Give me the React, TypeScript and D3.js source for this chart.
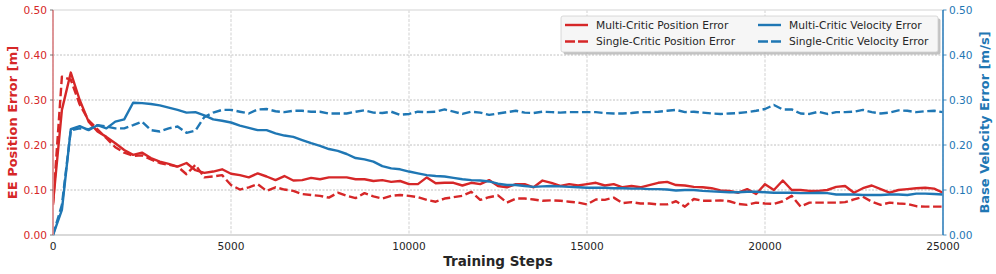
import React from "react";
import * as d3 from "d3";

// Training steps (logged every 250 steps)
const steps: number[] = d3.range(0, 25001, 250);

const multiCriticPosition: number[] = [
  0.07, 0.278, 0.361, 0.30, 0.252, 0.23, 0.218, 0.204, 0.189, 0.178,
  0.183, 0.171, 0.163, 0.158, 0.152, 0.16, 0.144, 0.138, 0.141, 0.146,
  0.136, 0.133, 0.128, 0.137, 0.13, 0.122, 0.131, 0.121, 0.122, 0.127,
  0.124, 0.128, 0.128, 0.128, 0.124, 0.124, 0.12, 0.122, 0.118, 0.12,
  0.113, 0.113, 0.128, 0.115, 0.116, 0.116, 0.11, 0.116, 0.113, 0.122,
  0.109, 0.106, 0.113, 0.113, 0.106, 0.121, 0.116, 0.109, 0.113, 0.11,
  0.113, 0.116, 0.11, 0.113, 0.106, 0.109, 0.106, 0.111, 0.116, 0.118,
  0.111, 0.11, 0.107, 0.106, 0.104, 0.099, 0.098, 0.094, 0.102, 0.091,
  0.113, 0.1, 0.121, 0.1, 0.1, 0.098, 0.098, 0.1, 0.107, 0.109,
  0.094, 0.104, 0.11, 0.102, 0.094, 0.1, 0.102, 0.104, 0.105, 0.103,
  0.094,
];

const singleCriticPosition: number[] = [
  0.067, 0.352, 0.345, 0.29, 0.255, 0.235, 0.215, 0.195, 0.183, 0.176,
  0.177, 0.168, 0.16, 0.156, 0.152, 0.135, 0.156, 0.128, 0.13, 0.133,
  0.111, 0.101, 0.106, 0.113, 0.098, 0.106, 0.101, 0.098, 0.091, 0.089,
  0.087, 0.083, 0.094, 0.087, 0.082, 0.093, 0.086, 0.081, 0.087, 0.089,
  0.087, 0.084, 0.078, 0.074, 0.081, 0.084, 0.087, 0.096, 0.078, 0.084,
  0.088, 0.072, 0.081, 0.081, 0.079, 0.076, 0.077, 0.076, 0.074, 0.072,
  0.068, 0.079, 0.078, 0.083, 0.071, 0.073, 0.07, 0.07, 0.068, 0.068,
  0.075, 0.063, 0.08, 0.076, 0.076, 0.077, 0.075, 0.069, 0.067, 0.072,
  0.07, 0.069, 0.075, 0.087, 0.063, 0.072, 0.072, 0.072, 0.072, 0.073,
  0.079, 0.085, 0.074, 0.067, 0.072, 0.07, 0.069, 0.064, 0.063, 0.063,
  0.063,
];

const multiCriticVelocity: number[] = [
  0.0, 0.056, 0.235, 0.242, 0.233, 0.244, 0.237, 0.252, 0.257, 0.294,
  0.293, 0.291, 0.288, 0.283, 0.278, 0.272, 0.273, 0.266, 0.257, 0.254,
  0.25, 0.243, 0.238, 0.233, 0.233, 0.226, 0.221, 0.218, 0.211, 0.204,
  0.198, 0.191, 0.187, 0.18, 0.171, 0.168, 0.163, 0.153, 0.148, 0.146,
  0.141, 0.137, 0.133, 0.131, 0.13, 0.127, 0.124, 0.122, 0.121, 0.119,
  0.114, 0.111, 0.111, 0.109, 0.107, 0.108, 0.109, 0.108, 0.107, 0.106,
  0.105, 0.105, 0.105, 0.104, 0.104, 0.103, 0.103, 0.102, 0.102, 0.101,
  0.099, 0.1, 0.1, 0.098, 0.097, 0.096, 0.095, 0.095, 0.096, 0.096,
  0.095, 0.094, 0.094, 0.094, 0.093, 0.093, 0.094, 0.093, 0.09, 0.09,
  0.09, 0.089, 0.089, 0.089, 0.09, 0.09, 0.089, 0.092, 0.092, 0.091,
  0.09,
];

const singleCriticVelocity: number[] = [
  0.0, 0.067, 0.233, 0.237, 0.235, 0.244, 0.241, 0.237, 0.237, 0.244,
  0.252, 0.233, 0.23, 0.237, 0.241, 0.227, 0.232, 0.262, 0.272, 0.278,
  0.278, 0.274, 0.27, 0.279, 0.28, 0.275, 0.273, 0.276, 0.276, 0.274,
  0.274, 0.27, 0.27, 0.27, 0.274, 0.277, 0.272, 0.271, 0.274, 0.267,
  0.269, 0.274, 0.273, 0.274, 0.279, 0.274, 0.269, 0.274, 0.272, 0.267,
  0.27, 0.273, 0.276, 0.272, 0.271, 0.274, 0.273, 0.272, 0.273, 0.273,
  0.273, 0.273, 0.271, 0.27, 0.27, 0.271, 0.273, 0.273, 0.274, 0.276,
  0.278, 0.273, 0.274, 0.272, 0.27, 0.269, 0.27, 0.271, 0.273, 0.276,
  0.28, 0.289, 0.279, 0.279, 0.27, 0.269, 0.274, 0.269, 0.273, 0.273,
  0.274, 0.278, 0.273, 0.27, 0.272, 0.277, 0.276, 0.273, 0.275, 0.276,
  0.273,
];

const xTicks: number[] = [0, 5000, 10000, 15000, 20000, 25000];
const yTicks: number[] = [0, 0.1, 0.2, 0.3, 0.4, 0.5];

const legendLabels: string[] = [
  "Multi-Critic Position Error",
  "Single-Critic Position Error",
  "Multi-Critic Velocity Error",
  "Single-Critic Velocity Error",
];

const RED = "#d62728";
const BLUE = "#1f77b4";
const FONT = "'DejaVu Sans', sans-serif";

export default function App() {
  const W = 996;
  const H = 274;
  const left = 53;
  const right = 943;
  const top = 10;
  const bottom = 235;

  const x = d3.scaleLinear().domain([0, 25000]).range([left, right]);
  const yL = d3.scaleLinear().domain([0, 0.5]).range([bottom, top]);
  const yR = d3.scaleLinear().domain([0, 0.5]).range([bottom, top]);

  const lineL = (vals: number[]) =>
    d3.line<number>().x((_, i) => x(steps[i])).y((d) => yL(d))(vals) || "";
  const lineR = (vals: number[]) =>
    d3.line<number>().x((_, i) => x(steps[i])).y((d) => yR(d))(vals) || "";

  const dash = "8.5,3.6";
  const lw = 2.4;

  const legendItems = [
    { label: legendLabels[0], color: RED, dashed: false, col: 0, row: 0 },
    { label: legendLabels[1], color: RED, dashed: true, col: 0, row: 1 },
    { label: legendLabels[2], color: BLUE, dashed: false, col: 1, row: 0 },
    { label: legendLabels[3], color: BLUE, dashed: true, col: 1, row: 1 },
  ];
  const lgX = 561;
  const lgY = 16;
  const lgW = 377;
  const lgH = 36;
  const colX = [565, 758];
  const rowY = [25, 41.5];

  return (
    <div style={{ position: "fixed", left: 0, top: 0 }}>
      <svg width={W} height={H} style={{ display: "block", background: "#fff" }}>
        <defs>
          <clipPath id="plot">
            <rect x={left} y={top - 2} width={right - left} height={bottom - top + 4} />
          </clipPath>
        </defs>
        {/* vertical grid */}
        {xTicks.map((t) => (
          <line key={"vg" + t} x1={x(t)} x2={x(t)} y1={top} y2={bottom}
            stroke="#dcdcdc" strokeWidth={1.3} strokeDasharray="3,1.5" />
        ))}
        {/* horizontal grid */}
        {yTicks.slice(1, 5).map((t) => (
          <line key={"hg" + t} x1={left} x2={right} y1={yL(t)} y2={yL(t)}
            stroke="#b0b0b0" strokeWidth={0.8} strokeDasharray="2,1.5" />
        ))}
        {/* spines */}
        <line x1={left} x2={right} y1={top} y2={top} stroke="#e2e2e2" strokeWidth={1.6} />
        <line x1={left} x2={right} y1={bottom} y2={bottom} stroke="#cccccc" strokeWidth={1.6} />

        {/* lines */}
        <g clipPath="url(#plot)" fill="none" strokeLinejoin="round">
          <path d={lineL(multiCriticPosition)} stroke={RED} strokeWidth={lw} />
          <path d={lineL(singleCriticPosition)} stroke={RED} strokeWidth={lw} strokeDasharray={dash} />
          <path d={lineR(multiCriticVelocity)} stroke={BLUE} strokeWidth={lw} />
          <path d={lineR(singleCriticVelocity)} stroke={BLUE} strokeWidth={lw} strokeDasharray={dash} />
        </g>

        <line x1={left} x2={left} y1={top} y2={bottom} stroke="#dc8c8e" strokeWidth={1.8} />
        <line x1={right} x2={right} y1={top} y2={bottom} stroke="#4a8fc4" strokeWidth={1.8} />

        {/* left ticks */}
        {yTicks.map((t) => (
          <g key={"yl" + t}>
            <line x1={left - 3} x2={left} y1={yL(t)} y2={yL(t)} stroke="#555" strokeWidth={0.8} />
            <text x={left - 6} y={yL(t)} dy="0.35em" textAnchor="end" fill={RED}
              fontFamily={FONT} fontSize={10.6}>{t.toFixed(2)}</text>
          </g>
        ))}
        {/* right ticks */}
        {yTicks.map((t) => (
          <g key={"yr" + t}>
            <line x1={right} x2={right + 3.5} y1={yR(t)} y2={yR(t)} stroke={BLUE} strokeWidth={0.8} />
            <text x={right + 6} y={yR(t)} dy="0.35em" textAnchor="start" fill={BLUE}
              fontFamily={FONT} fontSize={10.6}>{t.toFixed(2)}</text>
          </g>
        ))}
        {/* x ticks */}
        {xTicks.map((t) => (
          <text key={"xt" + t} x={x(t)} y={246} dy="0.35em" textAnchor="middle" fill="#262626"
            fontFamily={FONT} fontSize={10.6}>{t}</text>
        ))}

        {/* axis labels */}
        <text x={(left + right) / 2} y={261} dy="0.35em" textAnchor="middle" fill="#262626"
          fontFamily={FONT} fontSize={13.5} fontWeight="bold">Training Steps</text>
        <text transform={`translate(12,${(top + bottom) / 2}) rotate(-90)`} dy="0.35em" textAnchor="middle"
          fill={RED} fontFamily={FONT} fontSize={13} fontWeight="bold">EE Position Error [m]</text>
        <text transform={`translate(984,${(top + bottom) / 2}) rotate(-90)`} dy="0.35em" textAnchor="middle"
          fill={BLUE} fontFamily={FONT} fontSize={13} fontWeight="bold">Base Velocity Error [m/s]</text>

        {/* legend */}
        <rect x={lgX + 2.5} y={lgY + 2.5} width={lgW} height={lgH} rx={2} fill="#9a9a9a" opacity={0.6} />
        <rect x={lgX} y={lgY} width={lgW} height={lgH} rx={2} fill="#f6f6f6" stroke="#d0d0d0" strokeWidth={0.8} />
        {legendItems.map((it) => (
          <g key={it.label}>
            <line x1={colX[it.col]} x2={colX[it.col] + 23} y1={rowY[it.row]} y2={rowY[it.row]}
              stroke={it.color} strokeWidth={lw} strokeDasharray={it.dashed ? "10,3" : undefined} />
            <text x={colX[it.col] + 31} y={rowY[it.row]} dy="0.35em" fill="#262626"
              fontFamily={FONT} fontSize={10.7}>{it.label}</text>
          </g>
        ))}
      </svg>
    </div>
  );
}
